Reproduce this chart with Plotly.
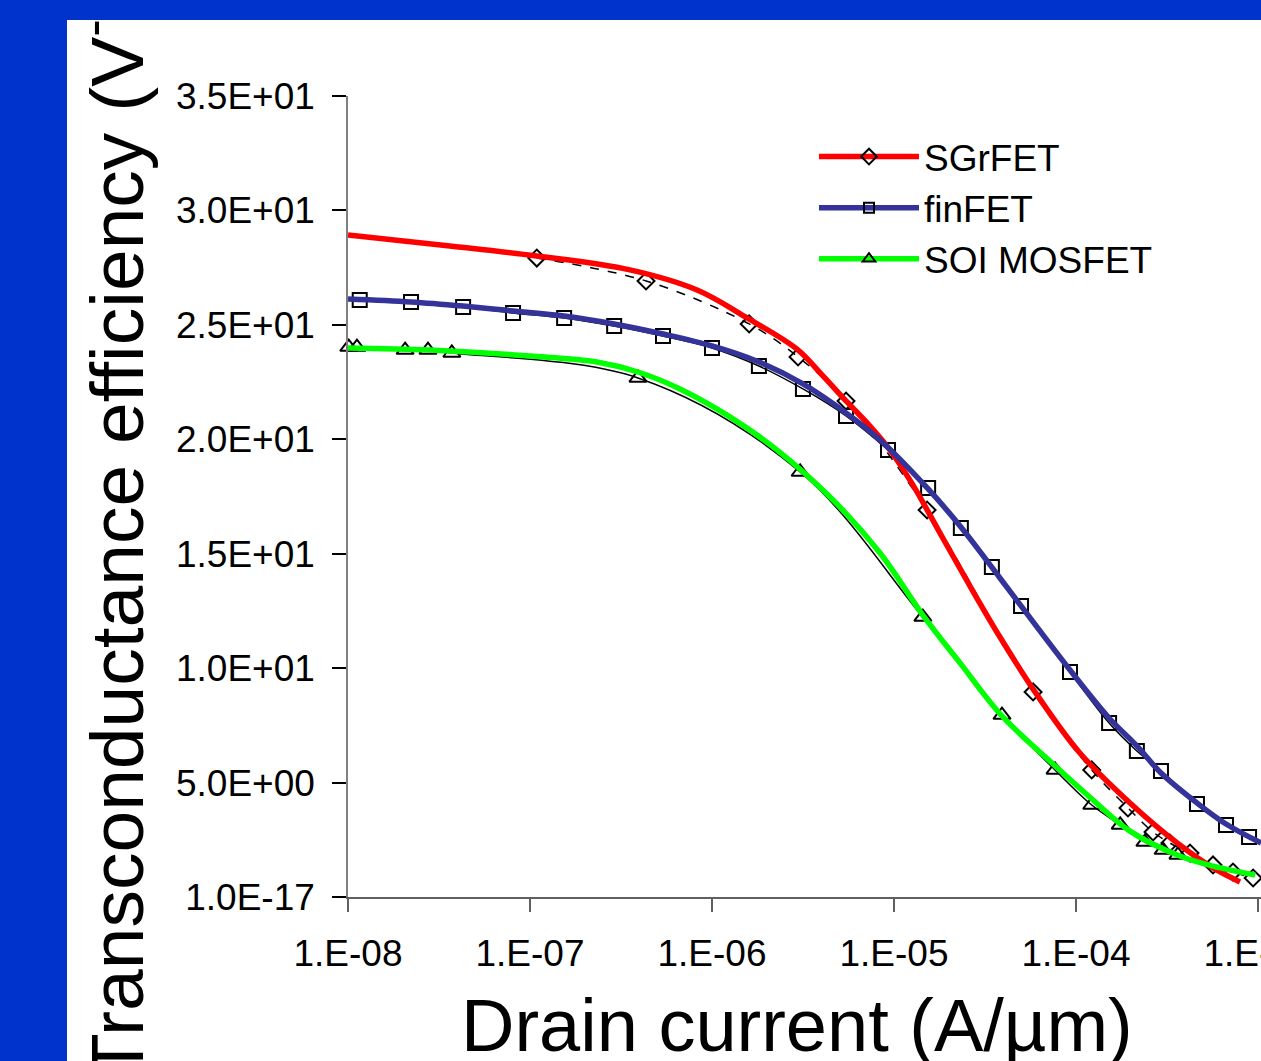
import plotly.graph_objects as go

# ---------------- data ----------------
# Measured / simulated points (markers), drain current in A/um, gm/Id in 1/V
sgr_I = [1.09e-7, 4.34e-7, 1.60e-6, 2.97e-6, 5.45e-6, 1.52e-5, 5.81e-5, 1.22e-4,
         1.93e-4, 2.65e-4, 3.28e-4, 4.23e-4, 5.66e-4, 7.29e-4, 9.40e-4]
sgr_gm = [27.92, 26.92, 25.04, 23.60, 21.67, 16.91, 8.96, 5.55,
          3.89, 2.84, 2.36, 1.92, 1.40, 1.09, 0.83]

fin_I = [1.16e-8, 2.22e-8, 4.29e-8, 8.07e-8, 1.54e-7, 2.90e-7, 5.38e-7, 1.0e-6,
         1.81e-6, 3.16e-6, 5.45e-6, 9.27e-6, 1.54e-5, 2.33e-5, 3.45e-5, 4.99e-5,
         9.27e-5, 1.52e-4, 2.16e-4, 2.93e-4, 4.62e-4, 6.67e-4, 8.93e-4]
fin_gm = [26.09, 26.00, 25.78, 25.52, 25.30, 24.95, 24.51, 23.99,
          23.20, 22.20, 21.02, 19.53, 17.87, 16.12, 14.42, 12.72,
          9.83, 7.60, 6.38, 5.51, 4.06, 3.15, 2.62]

soi_I = [1.01e-8, 1.12e-8, 2.06e-8, 2.75e-8, 3.72e-8, 3.92e-7, 3.05e-6, 1.44e-5,
         3.92e-5, 7.67e-5, 1.22e-4, 1.75e-4, 2.39e-4, 3.01e-4, 3.63e-4]
soi_gm = [24.03, 24.03, 23.90, 23.90, 23.77, 22.68, 18.57, 12.23,
          7.95, 5.55, 4.02, 3.15, 2.40, 2.05, 1.84]

# Smooth trend curves (coloured lines)
sgr_fit_I = [1.0e-8, 3.63e-8, 1.09e-7, 3.54e-7, 8.28e-7, 1.56e-6, 2.93e-6, 4.07e-6,
             5.52e-6, 7.38e-6, 9.51e-6, 1.26e-5, 1.79e-5, 2.52e-5, 3.82e-5, 6.11e-5,
             1.05e-4, 1.98e-4, 3.72e-4, 5.66e-4, 7.96e-4]
sgr_fit_gm = [28.93, 28.45, 28.01, 27.40, 26.52, 25.30, 23.94, 22.77,
              21.63, 20.58, 19.53, 18.05, 15.90, 13.81, 11.36, 8.83,
              6.29, 4.11, 2.27, 1.27, 0.66]

fin_fit_I = [1.0e-8, 2.22e-8, 4.29e-8, 8.07e-8, 1.54e-7, 2.90e-7, 5.38e-7, 1.0e-6,
             1.81e-6, 3.16e-6, 5.45e-6, 8.38e-6, 1.54e-5, 2.33e-5, 3.82e-5, 4.99e-5,
             9.27e-5, 1.52e-4, 2.16e-4, 2.93e-4, 4.62e-4, 6.67e-4, 1.04e-3]
fin_fit_gm = [26.13, 26.00, 25.82, 25.61, 25.39, 25.04, 24.60, 24.08,
              23.38, 22.42, 21.15, 19.97, 17.83, 16.17, 13.94, 12.72,
              9.92, 7.82, 6.60, 5.42, 4.11, 3.19, 2.36]

soi_fit_I = [1.0e-8, 2.82e-8, 1.0e-7, 2.33e-7, 3.92e-7, 6.67e-7, 1.26e-6, 2.28e-6,
             4.45e-6, 8.38e-6, 1.44e-5, 2.31e-5, 3.92e-5, 7.48e-5, 1.24e-4, 1.98e-4,
             3.72e-4, 5.66e-4, 9.64e-4]
soi_fit_gm = [23.99, 23.90, 23.64, 23.38, 22.94, 22.20, 20.97, 19.53,
              17.48, 15.03, 12.32, 10.22, 7.91, 5.81, 4.24, 2.88,
              1.79, 1.35, 0.96]

series_names = ["SGrFET", "finFET", "SOI MOSFET"]
x_tick_vals = [1e-8, 1e-7, 1e-6, 1e-5, 1e-4, 1e-3]
x_tick_text = ["1.E-08", "1.E-07", "1.E-06", "1.E-05", "1.E-04", "1.E-03"]
y_tick_vals = [0, 5, 10, 15, 20, 25, 30, 35]
y_tick_text = ["1.0E-17", "5.0E+00", "1.0E+01", "1.5E+01", "2.0E+01",
               "2.5E+01", "3.0E+01", "3.5E+01"]

# ---------------- layout geometry ----------------
W, H = 1261, 1061
L, R, T, B = 348, 0, 96, 164
PW, PH = W - L - R, H - T - B
FONT = "Liberation Sans, Arial, sans-serif"
BLUE = "#0033CC"


def px(xp):
    return (xp - L) / PW


def py(yp):
    return (H - B - yp) / PH


fig = go.Figure()

# data markers with thin black connecting lines (under the coloured curves)
fig.add_trace(go.Scatter(x=sgr_I, y=sgr_gm, mode="lines+markers", showlegend=False,
                         line=dict(color="black", width=1.5, dash="dash", shape="spline"),
                         marker=dict(symbol="diamond-open", size=13, color="black",
                                     line=dict(width=2, color="black")),
                         cliponaxis=False))
fig.add_trace(go.Scatter(x=fin_I, y=fin_gm, mode="lines+markers", showlegend=False,
                         line=dict(color="black", width=1.5, shape="spline"),
                         marker=dict(symbol="square-open", size=14, color="black",
                                     line=dict(width=2, color="black")),
                         cliponaxis=False))
fig.add_trace(go.Scatter(x=soi_I, y=soi_gm, mode="lines+markers", showlegend=False,
                         line=dict(color="black", width=1.5, shape="spline"),
                         marker=dict(symbol="triangle-up-open", size=15, color="black",
                                     line=dict(width=2, color="black")),
                         cliponaxis=False))

# coloured trend curves
fig.add_trace(go.Scatter(x=sgr_fit_I, y=sgr_fit_gm, mode="lines", showlegend=False,
                         line=dict(color="#FF0000", width=5.5, shape="spline", smoothing=1.0)))
fig.add_trace(go.Scatter(x=soi_fit_I, y=soi_fit_gm, mode="lines", showlegend=False,
                         line=dict(color="#00FF00", width=5.5, shape="spline", smoothing=1.0)))
fig.add_trace(go.Scatter(x=fin_fit_I, y=fin_fit_gm, mode="lines", showlegend=False,
                         line=dict(color="#333399", width=5.5, shape="spline", smoothing=1.0)))

# legend entries (no plotted points)
leg_styles = [("#FF0000", "diamond-open", 12), ("#333399", "square-open", 10),
              ("#00FF00", "triangle-up-open", 11)]
for name, (col, sym, sz) in zip(series_names, leg_styles):
    fig.add_trace(go.Scatter(x=[None], y=[None], mode="lines+markers", name=name,
                             line=dict(color=col, width=5.5),
                             marker=dict(symbol=sym, size=sz, color="black",
                                         line=dict(width=2, color="black"))))

fig.update_layout(
    width=W, height=H,
    margin=dict(l=L, r=R, t=T, b=B, pad=0, autoexpand=False),
    paper_bgcolor=BLUE,
    plot_bgcolor="rgba(0,0,0,0)",
    font=dict(family=FONT, color="black", size=37),
    showlegend=True,
    legend=dict(x=px(814), y=py(126), xanchor="left", yanchor="top",
                bgcolor="rgba(0,0,0,0)", borderwidth=0,
                font=dict(family=FONT, size=37, color="black"),
                itemwidth=100),
    shapes=[dict(type="rect", xref="paper", yref="paper", layer="below",
                 x0=px(67), x1=px(W + 5), y0=py(H + 5), y1=py(20),
                 fillcolor="white", line=dict(width=0))],
)

fig.update_xaxes(type="log", range=[-8, -2.9835], showgrid=False, zeroline=False,
                 automargin=False,
                 showline=True, linecolor="#606060", linewidth=1.5,
                 ticks="outside", ticklen=13, tickwidth=1.5, tickcolor="#606060",
                 tickvals=x_tick_vals, ticktext=x_tick_text,
                 tickfont=dict(family=FONT, size=37, color="black"),
                 ticklabelstandoff=10, ticklabeloverflow="allow")
fig.update_yaxes(range=[0, 35], showgrid=False, zeroline=False,
                 automargin=False,
                 showline=True, linecolor="#808080", linewidth=1.5,
                 ticks="outside", ticklen=14, tickwidth=1.5, tickcolor="black",
                 tickvals=y_tick_vals, ticktext=y_tick_text,
                 tickfont=dict(family=FONT, size=37, color="black"),
                 ticklabelstandoff=10)

fig.add_annotation(text="Transconductance efficiency (V<sup>-1</sup>)", textangle=-90,
                   xref="paper", yref="paper", x=px(111), y=py(522),
                   xanchor="center", yanchor="middle", showarrow=False,
                   font=dict(family=FONT, size=75, color="black"))
fig.add_annotation(text="Drain current (A/µm)",
                   xref="paper", yref="paper", x=px(797), y=py(1025),
                   xanchor="center", yanchor="middle", showarrow=False,
                   font=dict(family=FONT, size=74, color="black"))
# top blue band covering the overflow of the axis title
fig.add_annotation(text=" ", xref="paper", yref="paper", x=px(W / 2), y=py(5),
                   xanchor="center", yanchor="middle", showarrow=False,
                   width=W + 20, height=30, bgcolor=BLUE, borderpad=0, borderwidth=0,
                   font=dict(size=10))

fig.write_html("out.html")
